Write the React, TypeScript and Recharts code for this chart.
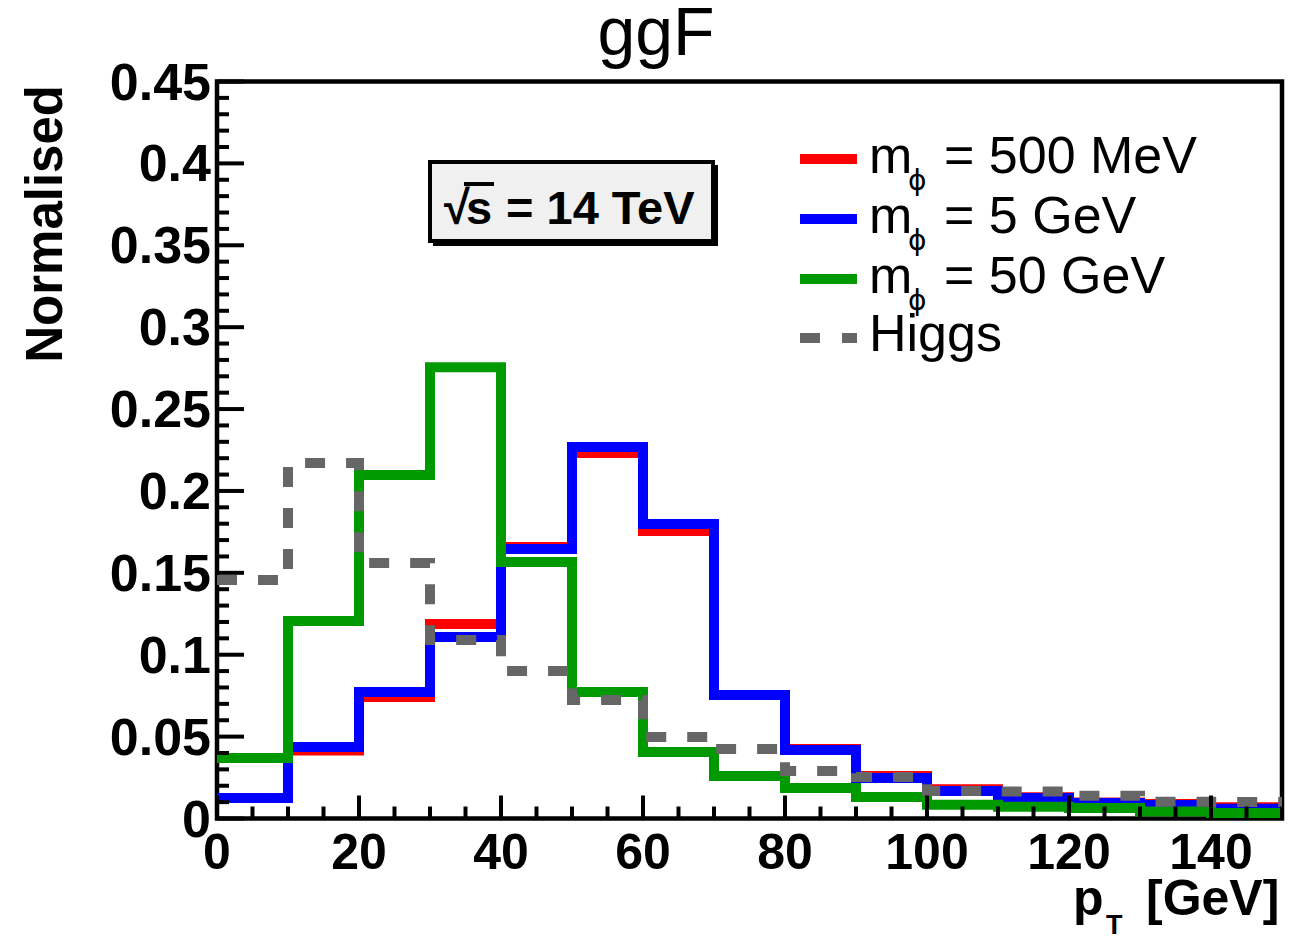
import React from 'react';
import { LineChart, Line, XAxis, YAxis, ReferenceArea } from 'recharts';

// ---- data (bin lower edges, 10 GeV bins from 0 to 150) ----
const binEdges = [0, 10, 20, 30, 40, 50, 60, 70, 80, 90, 100, 110, 120, 130, 140];
const xMax = 150;
const m500MeV = [0.0125, 0.0415, 0.0742, 0.1187, 0.1657, 0.2231, 0.1755, 0.0754, 0.0425, 0.026, 0.0178, 0.013, 0.0098, 0.0088, 0.0068];
const m5GeV = [0.0125, 0.0437, 0.0772, 0.1108, 0.1645, 0.2268, 0.1798, 0.0754, 0.0418, 0.0247, 0.0168, 0.0125, 0.0095, 0.0082, 0.006];
const m50GeV = [0.0369, 0.1206, 0.2097, 0.2756, 0.1566, 0.0772, 0.0406, 0.0259, 0.0186, 0.0131, 0.0084, 0.0072, 0.0064, 0.0042, 0.0034];
const higgs = [0.1456, 0.217, 0.156, 0.109, 0.09, 0.0723, 0.0498, 0.0424, 0.029, 0.0253, 0.0168, 0.0165, 0.0139, 0.0103, 0.0101];

const legendMasses = ['500 MeV', '5 GeV', '50 GeV'];
const higgsLabel = 'Higgs';
const xTickLabels = ['0', '20', '40', '60', '80', '100', '120', '140'];
const yTickLabels = ['0', '0.05', '0.1', '0.15', '0.2', '0.25', '0.3', '0.35', '0.4', '0.45'];
const titleText = 'ggF';
const yTitle = 'Normalised';
const energyText = '= 14 TeV';

const COLORS = { red: '#ff0000', blue: '#0000ff', green: '#009900', gray: '#666666' };
const FONT = '"Liberation Sans", Arial, Helvetica, sans-serif';

// layout
const PLOT_LEFT = 217;
const PLOT_BOTTOM = 818.5;
const Y_AXIS_W = 60;
const X_AXIS_H = 30;

// step-histogram rows: last bin repeated at the upper edge
const data = [...binEdges, xMax].map((x, i) => {
  const k = Math.min(i, binEdges.length - 1);
  return { x, m500MeV: m500MeV[k], m5GeV: m5GeV[k], m50GeV: m50GeV[k], higgs: higgs[k] };
});

const xTicks = Array.from({ length: 31 }, (_, i) => i * 5);
const yTicks = Array.from({ length: 46 }, (_, i) => Number((i / 100).toFixed(2)));

const XTick = (props: any) => {
  const { payload, bottom } = props;
  const x = payload.coordinate;
  const v = Math.round(payload.value);
  const major = v % 20 === 0;
  const len = major ? 23 : 12;
  return (
    <g>
      <line x1={x} x2={x} y1={bottom} y2={bottom - len} stroke="#000" strokeWidth={4} />
      {major && (
        <text x={x} y={bottom + 50} textAnchor="middle" fontFamily={FONT} fontWeight="bold" fontSize={50} fill="#000">
          {xTickLabels[v / 20]}
        </text>
      )}
    </g>
  );
};

const YTick = (props: any) => {
  const { payload, left } = props;
  const y = payload.coordinate;
  const i = Math.round(payload.value * 100);
  const major = i % 5 === 0;
  const len = major ? 27 : 12;
  return (
    <g>
      <line x1={left} x2={left + len} y1={y} y2={y} stroke="#000" strokeWidth={4} />
      {major && (
        <text x={left - 6} y={y + 18} textAnchor="end" fontFamily={FONT} fontWeight="bold" fontSize={52} fill="#000">
          {yTickLabels[i / 5]}
        </text>
      )}
    </g>
  );
};

const legendColors = [COLORS.red, COLORS.blue, COLORS.green];

export default function App() {
  return (
    <div style={{ position: 'absolute', left: 0, top: 0, width: 1306, height: 938, background: '#fff' }}>
      <LineChart
        width={1306}
        height={938}
        data={data}
        margin={{ top: 81.5, right: 24, bottom: 938 - PLOT_BOTTOM - X_AXIS_H, left: PLOT_LEFT - Y_AXIS_W }}
      >
        <XAxis
          dataKey="x"
          type="number"
          domain={[0, xMax]}
          ticks={xTicks}
          interval={0}
          height={X_AXIS_H}
          axisLine={false}
          tickLine={false}
          tick={<XTick bottom={PLOT_BOTTOM} />}
        />
        <YAxis
          type="number"
          domain={[0, 0.45]}
          ticks={yTicks}
          interval={0}
          width={Y_AXIS_W}
          axisLine={false}
          tickLine={false}
          tick={<YTick left={PLOT_LEFT} />}
        />
        <Line type="stepAfter" dataKey="m500MeV" stroke={COLORS.red} strokeWidth={10} dot={false} activeDot={false} isAnimationActive={false} />
        <Line type="stepAfter" dataKey="m5GeV" stroke={COLORS.blue} strokeWidth={10} dot={false} activeDot={false} isAnimationActive={false} />
        <Line type="stepAfter" dataKey="m50GeV" stroke={COLORS.green} strokeWidth={10} dot={false} activeDot={false} isAnimationActive={false} />
        <Line type="stepAfter" dataKey="higgs" stroke={COLORS.gray} strokeWidth={10} strokeDasharray="20 21" dot={false} activeDot={false} isAnimationActive={false} />
        <ReferenceArea x1={0} x2={xMax} y1={0} y2={0.45} fill="none" fillOpacity={0} stroke="#000" strokeWidth={4.5} ifOverflow="visible" />
      </LineChart>
      <svg width={1306} height={938} style={{ position: 'absolute', left: 0, top: 0, pointerEvents: 'none' }}>
        <text x={656} y={55} textAnchor="middle" fontFamily={FONT} fontSize={68} fill="#000">{titleText}</text>
        <text transform="translate(62,85) rotate(-90)" textAnchor="end" fontFamily={FONT} fontWeight="bold" fontSize={51} fill="#000">{yTitle}</text>
        <text fontFamily={FONT} fontWeight="bold" fontSize={50} fill="#000">
          <tspan x={1073} y={915}>p</tspan>
          <tspan x={1106} y={934} fontSize={27}>T</tspan>
          <tspan x={1146} y={915}>[GeV]</tspan>
        </text>
        {/* sqrt(s) box */}
        <rect x={433} y={165} width={285} height={81} fill="#000" />
        <rect x={430} y={162} width={283} height={79} fill="#f0f0f0" stroke="#000" strokeWidth={4} />
        <text fontFamily={FONT} fontWeight="bold" fontSize={47} fill="#000">
          <tspan x={444} y={224}>√</tspan>
          <tspan x={466} y={224}>s</tspan>
          <tspan x={506} y={224}>{energyText}</tspan>
        </text>
        <line x1={464} x2={494} y1={184} y2={184} stroke="#000" strokeWidth={4} />
        {/* legend */}
        {legendMasses.map((m, i) => (
          <g key={m}>
            <line x1={800} x2={857} y1={159 + 60 * i} y2={159 + 60 * i} stroke={legendColors[i]} strokeWidth={10} />
            <text fontFamily={FONT} fontSize={52} fill="#000">
              <tspan x={869} y={173 + 60 * i}>m</tspan>
              <tspan x={908} y={190 + 60 * i} fontSize={28} fontFamily={'"DejaVu Sans", ' + FONT}>ϕ</tspan>
              <tspan x={944} y={173 + 60 * i}>{'= ' + m}</tspan>
            </text>
          </g>
        ))}
        <line x1={800} x2={857} y1={338} y2={338} stroke={COLORS.gray} strokeWidth={10} strokeDasharray="20 22" />
        <text x={869} y={351} fontFamily={FONT} fontSize={52} fill="#000">{higgsLabel}</text>
      </svg>
    </div>
  );
}
